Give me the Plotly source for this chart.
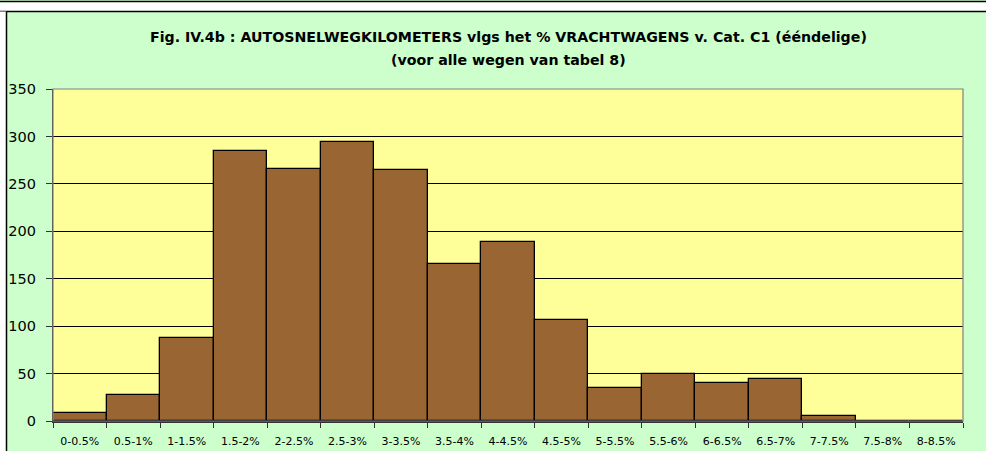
import plotly.graph_objects as go

categories = ["0-0.5%", "0.5-1%", "1-1.5%", "1.5-2%", "2-2.5%", "2.5-3%", "3-3.5%",
              "3.5-4%", "4-4.5%", "4.5-5%", "5-5.5%", "5.5-6%", "6-6.5%", "6.5-7%",
              "7-7.5%", "7.5-8%", "8-8.5%"]
values = [8, 27, 88, 285, 266, 294, 265, 166, 189, 107, 35, 50, 40, 44, 5, 0, 0]
y_ticks = [0, 50, 100, 150, 200, 250, 300, 350]

title1 = "Fig. IV.4b : AUTOSNELWEGKILOMETERS vlgs het % VRACHTWAGENS v. Cat. C1 (ééndelige)"
title2 = "(voor alle wegen van tabel 8)"

W, H = 986, 451
L, R, T, B = 53, 963, 89, 421
FONT = "DejaVu Sans, Verdana, sans-serif"

def px(x):
    return (x - L) / (R - L)

def py(y):
    return (B - y) / (B - T)

fig = go.Figure(go.Bar(
    x=categories, y=values,
    marker=dict(color="#996633", line=dict(color="#000000", width=1.3)),
))

shapes = [
    dict(type="rect", xref="paper", yref="paper", x0=px(-5), x1=px(W + 5), y0=py(11.5), y1=py(1.5),
         fillcolor="white", line=dict(width=0), layer="below"),
    dict(type="line", xref="paper", yref="paper", x0=px(-5), x1=px(W + 5), y0=py(1.5), y1=py(1.5),
         line=dict(color="black", width=1.5), layer="below"),
    dict(type="line", xref="paper", yref="paper", x0=px(-5), x1=px(W + 5), y0=py(11.5), y1=py(11.5),
         line=dict(color="black", width=1.5), layer="below"),
    dict(type="rect", xref="paper", yref="paper", x0=px(-5), x1=px(6.5), y0=py(H + 5), y1=py(11.5),
         fillcolor="white", line=dict(width=0), layer="below"),
    dict(type="line", xref="paper", yref="paper", x0=px(6.5), x1=px(6.5), y0=py(H + 5), y1=py(11.5),
         line=dict(color="black", width=1.5), layer="below"),
    dict(type="rect", xref="paper", yref="paper", x0=0, x1=1, y0=0, y1=1,
         line=dict(color="#808080", width=1.2), layer="above"),
]

fig.update_layout(
    width=W, height=H,
    margin=dict(l=L, r=W - R, t=T, b=H - B, pad=0, autoexpand=False),
    paper_bgcolor="#CCFFCC",
    plot_bgcolor="#FFFF99",
    bargap=0,
    showlegend=False,
    font=dict(family=FONT, color="#000000"),
    shapes=shapes,
    annotations=[
        dict(text="<b>" + title1 + "</b>", xref="paper", yref="paper", x=0.5, y=py(37),
             showarrow=False, font=dict(size=14.2, family=FONT),
             xanchor="center", yanchor="middle"),
        dict(text="<b>" + title2 + "</b>", xref="paper", yref="paper", x=0.5, y=py(60),
             showarrow=False, font=dict(size=14.2, family=FONT),
             xanchor="center", yanchor="middle"),
    ],
)

fig.update_yaxes(
    range=[0, 350], tickvals=y_ticks, ticktext=[str(v) for v in y_ticks],
    showgrid=True, gridcolor="#000000", gridwidth=1,
    showline=True, linecolor="#333333", linewidth=1.2,
    ticks="outside", ticklen=6, tickcolor="#333333", tickwidth=1,
    tickfont=dict(size=14.5), ticklabelstandoff=7,
    zeroline=False, fixedrange=True, automargin=False,
)
fig.update_xaxes(
    showgrid=False, showline=True, linecolor="#333333", linewidth=1.5,
    ticks="outside", ticklen=5, tickcolor="#333333", tickwidth=1,
    tickson="boundaries", tickfont=dict(size=11), ticklabelstandoff=9,
    fixedrange=True, automargin=False,
)

fig.write_html("out.html", config={"displayModeBar": False},
               post_script="document.body.style.margin='0';document.body.style.padding='0';")
